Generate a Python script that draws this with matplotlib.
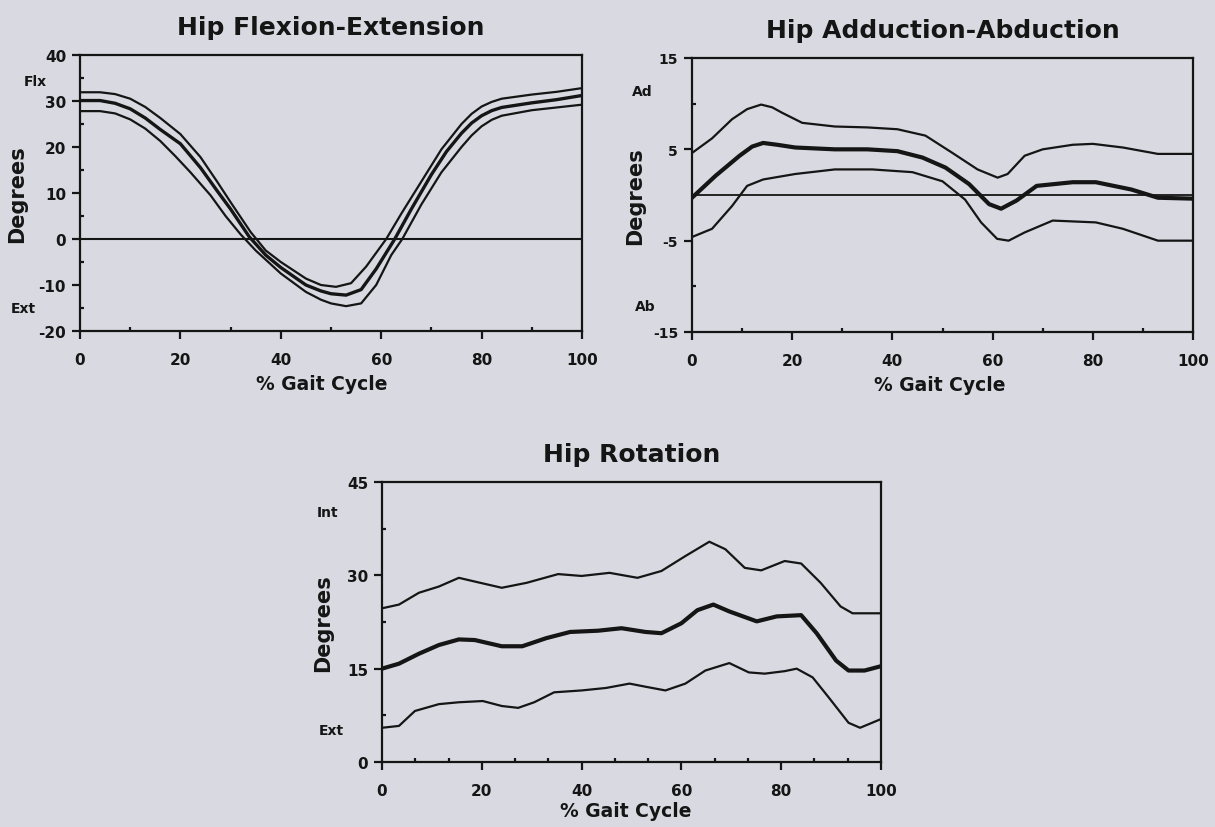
import matplotlib
matplotlib.use("Agg")
import matplotlib.pyplot as plt
from matplotlib.ticker import FixedLocator
import matplotlib.transforms as mtransforms

# ---------------- data ----------------
# Panel 1: Hip Flexion-Extension
flex_mean_x = [0, 4, 7, 10, 13, 16, 20, 24, 27.3, 30, 33.7, 37, 40, 45, 48, 50, 53, 56, 59, 62.7, 66, 70, 73, 76, 78, 80, 82, 84, 90, 95, 100]
flex_mean = [30.1, 30.1, 29.5, 28.3, 26.3, 23.8, 20.7, 15.5, 10.5, 6.5, 0.5, -3.5, -6.2, -10, -11.3, -11.9, -12.2, -11, -6.5, 0, 6.5, 14, 19, 23, 25.2, 26.8, 27.9, 28.6, 29.6, 30.3, 31.2]
flex_up_x = [0, 4, 7, 10, 13, 16, 20, 24, 27.3, 30, 34, 37, 40, 45, 48, 51, 54, 57, 61, 64, 68, 72, 76, 78, 80, 82, 84, 90, 95, 100]
flex_up = [31.9, 31.9, 31.5, 30.5, 28.7, 26.3, 22.8, 17.8, 12.5, 8, 1.5, -2.5, -5, -8.6, -10, -10.4, -9.6, -6, 0, 5.5, 12.5, 19.5, 25, 27.2, 28.8, 29.8, 30.5, 31.4, 32, 32.8]
flex_lo_x = [0, 4, 7, 10, 13, 16, 19, 22, 26, 29, 32, 35, 40, 45, 48, 50, 53, 56, 59, 62, 64.2, 68, 72, 76, 78, 80, 82, 84, 90, 95, 100]
flex_lo = [27.8, 27.8, 27.3, 26.0, 24, 21.3, 18, 14.5, 9.5, 5, 1, -2.5, -7.5, -11.5, -13.2, -14, -14.6, -14, -10, -3.5, 0, 7.5, 14.5, 20, 22.5, 24.5, 25.9, 26.8, 28, 28.6, 29.2]

# Panel 2: Hip Adduction-Abduction
add_up_x = [0, 4, 8, 11, 13.8, 16, 18, 22, 28.5, 35, 41, 46.6, 52, 57, 61, 63, 66.4, 70, 76, 80, 86, 93, 100]
add_up = [4.6, 6.2, 8.3, 9.4, 9.9, 9.6, 9.0, 7.9, 7.5, 7.4, 7.2, 6.5, 4.6, 2.8, 1.9, 2.3, 4.3, 5.0, 5.5, 5.6, 5.2, 4.5, 4.5]
add_mean_x = [0, 4.7, 9.5, 12, 14.2, 17, 20.6, 28.5, 35, 41, 46, 50.6, 55.3, 59.3, 61.7, 64.8, 68.8, 76, 80.6, 87.7, 93, 100]
add_mean = [-0.3, 2.1, 4.3, 5.3, 5.7, 5.5, 5.2, 5.0, 5.0, 4.8, 4.1, 3.0, 1.2, -1.0, -1.5, -0.6, 1.0, 1.4, 1.4, 0.6, -0.3, -0.4]
add_lo_x = [0, 4, 8, 11, 14.2, 20.6, 28.5, 36, 44, 50, 54.5, 57.7, 60.9, 63.2, 66.4, 72, 80.6, 86, 93, 100]
add_lo = [-4.6, -3.7, -1.2, 1.0, 1.7, 2.3, 2.8, 2.8, 2.5, 1.5, -0.5, -3.0, -4.8, -5.0, -4.1, -2.8, -3.0, -3.7, -5.0, -5.0]

# Panel 3: Hip Rotation
rot_up_x = [0, 3.4, 7.4, 11.4, 15.4, 18.6, 24, 29, 35.3, 40, 45.6, 51.2, 56, 60.8, 65.6, 68.8, 72.7, 76, 80.7, 84, 87.9, 91.9, 94.3, 100]
rot_up = [24.7, 25.3, 27.2, 28.2, 29.6, 29.0, 28.0, 28.8, 30.2, 29.9, 30.4, 29.6, 30.7, 33.1, 35.4, 34.2, 31.2, 30.8, 32.3, 31.9, 28.8, 25.0, 23.9, 23.9]
rot_mean_x = [0, 3.4, 7.4, 11.4, 15.4, 18.6, 24, 28.1, 32.9, 37.7, 43.3, 48, 52.8, 56, 60, 63.2, 66.4, 69.6, 75.1, 79.1, 84, 87.1, 91, 93.5, 96.7, 100]
rot_mean = [15.0, 15.8, 17.4, 18.8, 19.7, 19.6, 18.6, 18.6, 19.9, 20.9, 21.1, 21.5, 20.9, 20.7, 22.3, 24.4, 25.3, 24.2, 22.6, 23.4, 23.6, 20.7, 16.3, 14.7, 14.7, 15.4]
rot_lo_x = [0, 3.4, 6.6, 11.4, 15.4, 20.2, 24, 27.3, 30.5, 34.5, 40, 44.9, 49.6, 52.8, 56.8, 60.8, 64.8, 69.6, 73.5, 76.7, 80.7, 83.1, 86.3, 89.5, 93.5, 95.8, 100]
rot_lo = [5.5, 5.8, 8.2, 9.3, 9.6, 9.8, 9.0, 8.7, 9.6, 11.2, 11.5, 11.9, 12.6, 12.1, 11.5, 12.6, 14.7, 15.9, 14.4, 14.2, 14.6, 15.0, 13.6, 10.4, 6.3, 5.5, 6.9]

x_ticks = [0, 20, 40, 60, 80, 100]
flex_yticks = [-20, -10, 0, 10, 20, 30, 40]
add_yticks = [-15, -5, 5, 15]
rot_yticks = [0, 15, 30, 45]

# ---------------- style ----------------
BG = "#d9d9e1"
INK = "#151515"
FONT = "DejaVu Sans"
plt.rcParams["font.family"] = [FONT]
plt.rcParams["font.weight"] = "bold"
plt.rcParams["axes.unicode_minus"] = False

fig = plt.figure(figsize=(12.15, 8.28), dpi=100, facecolor=BG)
W, H = 1215.0, 828.0


def make_axes(l, t, r, b):
    return fig.add_axes([l / W, 1 - b / H, (r - l) / W, (b - t) / H])


ax1 = make_axes(80, 56, 582, 332)
ax2 = make_axes(692, 59, 1193, 333)
ax3 = make_axes(382, 483, 881, 763)


def style(ax, title, yticks, ylim, yminor, xminor, ylab_x, xlab_xy, ysize=11):
    ax.set_facecolor(BG)
    ax.set_xlim(0, 100)
    ax.set_ylim(*ylim)
    ax.set_xticks(x_ticks)
    ax.set_yticks(yticks)
    ax.xaxis.set_minor_locator(FixedLocator(xminor))
    ax.yaxis.set_minor_locator(FixedLocator(yminor))
    for s in ax.spines.values():
        s.set_linewidth(1.6)
        s.set_color(INK)
    ax.tick_params(which="major", direction="out", length=6, width=1.6,
                   color=INK, labelsize=11, labelcolor=INK)
    ax.tick_params(axis="y", which="major", labelsize=ysize, pad=4)
    ax.tick_params(axis="x", which="major", pad=9)
    ax.tick_params(which="minor", direction="in", length=3, width=1.6, color=INK)
    for lab in ax.get_xticklabels() + ax.get_yticklabels():
        lab.set_fontweight("bold")
    ax.set_title(title, fontsize=18, fontweight="bold", color=INK, pad=15)
    ax.set_ylabel("Degrees", fontsize=15, fontweight="bold", color=INK, va="center")
    ax.yaxis.set_label_coords(ylab_x, 0.5)
    ax.set_xlabel("% Gait Cycle", fontsize=13.5, fontweight="bold", color=INK, va="center")
    ax.xaxis.set_label_coords(*xlab_xy)


def side_label(ax, text, xfrac, yval):
    tr = mtransforms.blended_transform_factory(ax.transAxes, ax.transData)
    ax.text(xfrac, yval, text, transform=tr, ha="center", va="center",
            fontsize=10, fontweight="bold", color=INK, clip_on=False)


LW_BAND = 1.6
LW_MEAN = 3.0

# Panel 1
ax1.axhline(0, color=INK, lw=1.5)
ax1.plot(flex_up_x, flex_up, color=INK, lw=LW_BAND, solid_joinstyle="round")
ax1.plot(flex_mean_x, flex_mean, color=INK, lw=2.4, solid_joinstyle="round")
ax1.plot(flex_lo_x, flex_lo, color=INK, lw=LW_BAND, solid_joinstyle="round")
style(ax1, "Hip Flexion-Extension", flex_yticks, (-20, 40),
      [-15, -5, 5, 15, 25, 35], [10, 30, 50, 70, 90], -0.125, (0.482, -0.192))
side_label(ax1, "Flx", -0.09, 34.3)
side_label(ax1, "Ext", -0.112, -15)

# Panel 2
ax2.axhline(0, color=INK, lw=1.3)
ax2.plot(add_up_x, add_up, color=INK, lw=LW_BAND, solid_joinstyle="round")
ax2.plot(add_mean_x, add_mean, color=INK, lw=LW_MEAN, solid_joinstyle="round")
ax2.plot(add_lo_x, add_lo, color=INK, lw=LW_BAND, solid_joinstyle="round")
style(ax2, "Hip Adduction-Abduction", add_yticks, (-15, 15),
      [-10, 0, 10], [10, 30, 50, 70, 90], -0.114, (0.495, -0.193), ysize=10)
side_label(ax2, "Ad", -0.10, 11.4)
side_label(ax2, "Ab", -0.094, -12.2)

# Panel 3
ax3.plot(rot_up_x, rot_up, color=INK, lw=LW_BAND, solid_joinstyle="round")
ax3.plot(rot_mean_x, rot_mean, color=INK, lw=LW_MEAN, solid_joinstyle="round")
ax3.plot(rot_lo_x, rot_lo, color=INK, lw=LW_BAND, solid_joinstyle="round")
style(ax3, "Hip Rotation", rot_yticks, (0, 45),
      [7.5, 22.5, 37.5], [20 / 3 * k for k in range(1, 15) if k % 3 != 0],
      -0.118, (0.489, -0.175))
side_label(ax3, "Int", -0.11, 40.2)
side_label(ax3, "Ext", -0.102, 5.1)

fig.savefig("out.png", dpi=100, facecolor=BG)
